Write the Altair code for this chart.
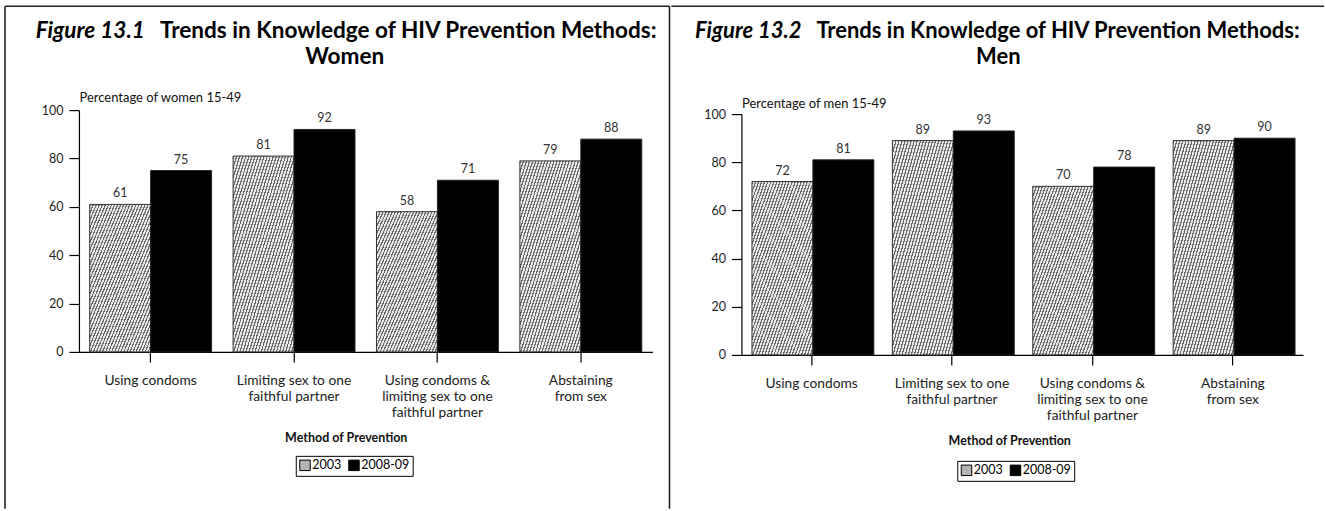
import altair as alt
import pandas as pd

# ---------------- data ----------------
categories = [
    "Using condoms",
    "Limiting sex to one\nfaithful partner",
    "Using condoms &\nlimiting sex to one\nfaithful partner",
    "Abstaining\nfrom sex",
]
years = ["2003", "2008-09"]
women_2003 = [61, 81, 58, 79]
women_2008 = [75, 92, 71, 88]
men_2003 = [72, 89, 70, 89]
men_2008 = [81, 93, 78, 90]

title_fig_women = "Figure 13.1"
title_fig_men = "Figure 13.2"
title_main = "Trends in Knowledge of HIV Prevention Methods:"
title_women = "Women"
title_men = "Men"
ytitle_women = "Percentage of women 15-49"
ytitle_men = "Percentage of men 15-49"
xtitle = "Method of Prevention"
y_ticks = [0, 20, 40, 60, 80, 100]
colors = ["#b4b4b4", "#000000"]

FONT = "Lato"

# diagonal hatch imitation for the 2003 bars (style only)
N_STRIPES = 40
stops = []
for i in range(N_STRIPES):
    s = i / N_STRIPES
    m = (i + 0.42) / N_STRIPES
    e = (i + 1) / N_STRIPES
    stops += [
        alt.GradientStop(offset=s, color="#6a6a6a"),
        alt.GradientStop(offset=m, color="#6a6a6a"),
        alt.GradientStop(offset=m, color="#e8e8e8"),
        alt.GradientStop(offset=e, color="#e8e8e8"),
    ]
hatch = alt.LinearGradient(gradient="linear", stops=stops, x1=0, y1=0, x2=1, y2=1)


def make_df(v2003, v2008):
    rows = []
    for c, a, b in zip(categories, v2003, v2008):
        rows.append({"method": c, "year": years[0], "value": a})
        rows.append({"method": c, "year": years[1], "value": b})
    return pd.DataFrame(rows)


one = pd.DataFrame({"k": [0]})


def panel(df, g):
    W, H = g["W"], g["H"]
    x = alt.X(
        "method:N",
        sort=categories,
        scale=alt.Scale(paddingInner=0.15, paddingOuter=0.075),
        axis=alt.Axis(
            title=xtitle,
            labelExpr="split(datum.label, '\\n')",
            labelAngle=0,
            labelFontSize=13.8,
            labelLineHeight=16,
            labelPadding=12,
            tickSize=10,
            titleFontSize=12.5,
            titleFontWeight="bold",
            titleX=g["xtitleX"],
            titleY=g["xtitleY"],
            titleBaseline="alphabetic",
            titleAnchor="middle",
            titleAlign="center",
        ),
    )
    xo = alt.XOffset("year:N", sort=years, scale=alt.Scale(domain=years))
    y = alt.Y(
        "value:Q",
        scale=alt.Scale(domain=[0, 100], range=g["yrange"]),
        axis=alt.Axis(
            values=y_ticks,
            title=g["ytitle"],
            titleAngle=0,
            titleAlign="left",
            titleBaseline="alphabetic",
            titleX=0,
            titleY=g["ytitleY"],
            titleFontSize=13,
            titleFontWeight="normal",
            tickSize=10,
            labelFontSize=12.5,
            labelPadding=6,
        ),
    )
    color = alt.Color(
        "year:N",
        sort=years,
        scale=alt.Scale(domain=years, range=colors),
        legend=alt.Legend(
            title=None,
            orient="none",
            legendX=g["legX"],
            legendY=g["legY"],
            direction="horizontal",
            strokeColor="black",
            padding=3,
            symbolType="square",
            symbolSize=110,
            symbolStrokeColor="black",
            symbolStrokeWidth=1,
            labelFontSize=12.5,
            labelFont=FONT,
            labelOffset=1,
            columnPadding=5,
        ),
    )
    base = alt.Chart(df)
    bars_new = base.mark_bar(stroke="#222", strokeWidth=1).encode(
        x=x, xOffset=xo, y=y, color=color
    ).transform_filter(alt.datum.year == years[1])
    bars_old = base.mark_bar(stroke="#333", strokeWidth=1, fill=hatch).encode(
        x=x, xOffset=xo, y=y
    ).transform_filter(alt.datum.year == years[0])
    labels = base.mark_text(
        baseline="alphabetic", dy=-7, fontSize=12.5, font=FONT, color="#333"
    ).encode(x=x, xOffset=xo, y=y, text="value:Q")

    bounds = alt.Chart(one).mark_rect(opacity=0).encode(
        x=alt.value(g["bx1"]), x2=alt.value(g["bx2"]),
        y=alt.value(g["by1"]), y2=alt.value(g["by2"]),
    )
    layers = [bounds]
    top = alt.Chart(one).mark_rule(color="#222", strokeWidth=1.6).encode(
        x=alt.value(g["tx1"]), x2=alt.value(g["tx2"]), y=alt.value(g["ty"])
    )
    layers.append(top)
    for vx in g["vlines"]:
        layers.append(
            alt.Chart(one).mark_rule(color="#222", strokeWidth=1.6).encode(
                x=alt.value(vx), y=alt.value(g["ty"]), y2=alt.value(g["by2"])
            )
        )
    t1 = alt.Chart(one).mark_text(
        align="right", baseline="alphabetic", fontSize=g["tfs"], font=FONT,
        fontWeight="bold", fontStyle="italic", color="black",
    ).encode(x=alt.value(g["t1x"]), y=alt.value(g["t1y"]), text=alt.value(g["fig"]))
    t2 = alt.Chart(one).mark_text(
        align="left", baseline="alphabetic", fontSize=g["tfs"], font=FONT,
        fontWeight="bold", color="black",
    ).encode(x=alt.value(g["t2x"]), y=alt.value(g["t1y"]), text=alt.value(title_main))
    t3 = alt.Chart(one).mark_text(
        align="center", baseline="alphabetic", fontSize=g["tfs"], font=FONT,
        fontWeight="bold", color="black",
    ).encode(x=alt.value(g["t3x"]), y=alt.value(g["t3y"]), text=alt.value(g["sub"]))
    layers += [t1, t2, t3, bars_old, bars_new, labels]
    return alt.layer(*layers).properties(width=W, height=H)


# both plot origins sit at page y=110; the right panel's scale starts 4px lower
g_left = dict(
    W=574, H=242, yrange=[242, 0],
    xtitleX=267, xtitleY=90, ytitle=ytitle_women, ytitleY=-9,
    legX=217, legY=346,
    bx1=-79, bx2=591, by1=-110, by2=399,
    tx1=-74, tx2=591, ty=-104, vlines=[-74, 591],
    tfs=22.6, fig=title_fig_women, sub=title_women,
    t1x=66, t1y=-72, t2x=81, t3x=266, t3y=-46,
)
g_right = dict(
    W=562, H=245, yrange=[245, 4],
    xtitleX=268, xtitleY=90, ytitle=ytitle_men, ytitleY=-3,
    legX=216, legY=351,
    bx1=-70, bx2=583, by1=-110, by2=399,
    tx1=-70, tx2=583, ty=-104, vlines=[],
    tfs=22, fig=title_fig_men, sub=title_men,
    t1x=60, t1y=-72, t2x=75, t3x=257, t3y=-46,
)

left = panel(make_df(women_2003, women_2008), g_left)
right = panel(make_df(men_2003, men_2008), g_right)

chart = (
    alt.hconcat(left, right, spacing=0)
    .resolve_legend(color="independent")
    .resolve_scale(color="independent", y="independent", x="independent")
    .properties(padding=0, background="white")
    .configure_view(stroke=None)
    .configure_axis(
        labelFont=FONT, titleFont=FONT, domainColor="black", tickColor="black",
        labelColor="#222", titleColor="#111", grid=False, domainWidth=1.2, tickWidth=1.2,
    )
    .configure_text(font=FONT)
)

chart.save("out.html", embed_options={"renderer": "svg", "actions": False})
